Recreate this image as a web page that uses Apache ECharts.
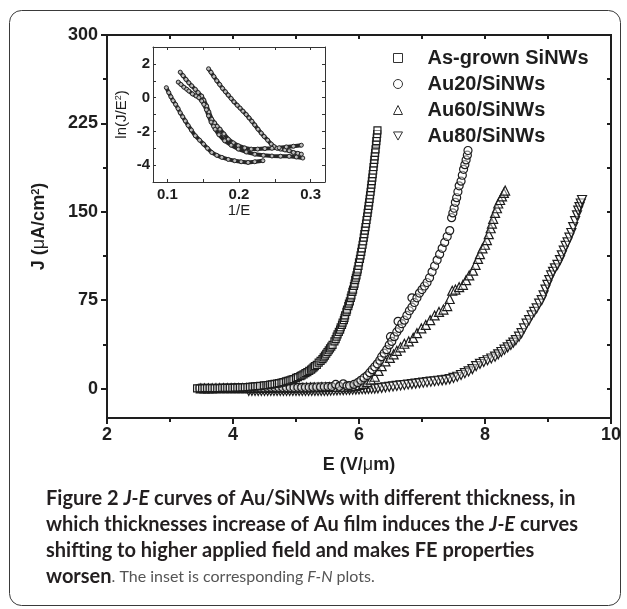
<!DOCTYPE html>
<html><head><meta charset="utf-8">
<script src="https://cdn.jsdelivr.net/npm/echarts@6/dist/echarts.min.js"></script>
<style>html,body{margin:0;padding:0;background:#fff}#c{width:627px;height:609px}</style>
</head><body><div id="c"></div>
<script>
// ---------- DATA ----------
const seriesNames = ['As-grown SiNWs', 'Au20/SiNWs', 'Au60/SiNWs', 'Au80/SiNWs'];
const yTicks = [0, 75, 150, 225, 300];
const yMinorTicks = [37.5, 112.5, 187.5, 262.5];
const insetXTicks = [0.1, 0.2, 0.3];
const insetYTicks = [-4, -2, 0, 2];

// main J-E data: [E (V/um), J (uA/cm2)]
const asGrown = [[3.43,0.2],[3.47,0.2],[3.51,0.2],[3.55,0.3],[3.59,0.3],[3.63,0.3],[3.67,0.3],[3.71,0.4],[3.75,0.4],[3.79,0.4],[3.83,0.5],[3.87,0.5],[3.91,0.5],[3.95,0.6],[3.99,0.6],[4.03,0.7],[4.07,0.8],[4.11,0.9],[4.15,1.0],[4.19,1.1],[4.23,1.2],[4.27,1.4],[4.31,1.6],[4.35,1.8],[4.39,2.0],[4.43,2.3],[4.49,2.6],[4.53,2.8],[4.56,3.0],[4.59,3.3],[4.62,3.5],[4.66,3.9],[4.70,4.2],[4.73,4.6],[4.77,5.0],[4.80,5.5],[4.84,6],[4.87,6.5],[4.90,7],[4.93,7.5],[4.96,8],[5.00,9],[5.03,9.7],[5.07,10.5],[5.09,11.2],[5.12,12],[5.15,13],[5.18,14],[5.21,15],[5.24,16],[5.26,17],[5.28,18],[5.30,19],[5.33,20],[5.36,22],[5.39,23.5],[5.42,25],[5.44,26.5],[5.46,28],[5.48,29.5],[5.50,31],[5.52,32.5],[5.54,34],[5.56,35.5],[5.58,37],[5.61,40],[5.63,42],[5.645,44],[5.66,46],[5.68,48],[5.70,50],[5.71,52],[5.73,54],[5.74,56],[5.76,58],[5.77,60],[5.78,62],[5.80,65],[5.81,67],[5.83,70],[5.84,72],[5.855,74],[5.87,77],[5.88,79],[5.895,82],[5.906,84],[5.92,87],[5.93,89],[5.94,92],[5.95,94],[5.96,96],[5.972,99],[5.98,101],[5.992,104],[6.00,107],[6.015,110],[6.025,113],[6.036,116],[6.046,119],[6.057,122],[6.066,125],[6.076,128],[6.085,131],[6.094,134],[6.103,137],[6.112,140],[6.12,143],[6.129,146],[6.137,149],[6.145,152],[6.153,155],[6.161,158],[6.169,161],[6.176,164],[6.184,167],[6.191,170],[6.198,173],[6.205,176],[6.212,179],[6.218,182],[6.225,185],[6.231,188],[6.238,191],[6.244,194],[6.25,197],[6.256,200],[6.263,203],[6.27,207],[6.276,210],[6.282,213],[6.288,216],[6.293,219]];

const au20 = [[3.47,0.3],[3.53,0.3],[3.59,0.3],[3.65,0.3],[3.71,0.4],[3.77,0.4],[3.83,0.4],[3.89,0.4],[3.95,0.4],[4.01,0.5],[4.07,0.5],[4.13,0.5],[4.19,0.5],[4.25,0.5],[4.31,0.6],[4.37,0.6],[4.43,0.6],[4.49,0.6],[4.55,0.7],[4.61,0.7],[4.67,0.7],[4.73,0.8],[4.79,0.8],[4.85,0.8],[4.91,0.9],[4.97,0.9],[5.03,1.0],[5.09,1.0],[5.15,1.1],[5.21,1.1],[5.27,1.2],[5.33,1.3],[5.39,1.4],[5.45,1.5],[5.51,1.6],[5.57,1.7],[5.63,3.5],[5.69,1.9],[5.75,4.0],[5.81,2.2],[5.85,2.5],[5.92,3.5],[5.98,5],[6.03,7],[6.08,9],[6.13,11],[6.17,13.5],[6.21,16],[6.25,18.5],[6.29,21],[6.33,24],[6.36,27],[6.40,30],[6.44,33],[6.48,37],[6.50,44],[6.52,40],[6.56,44],[6.60,48],[6.62,57],[6.64,51],[6.68,55],[6.72,58],[6.76,62],[6.80,66],[6.84,77],[6.84,69],[6.88,73],[6.92,77],[6.96,81],[7.00,84],[7.04,87],[7.08,90],[7.12,94],[7.16,99],[7.20,104],[7.24,109],[7.28,114],[7.32,119],[7.36,124],[7.40,129],[7.44,134],[7.47,145],[7.49,149],[7.51,153],[7.53,158],[7.55,162],[7.57,167],[7.59,172],[7.62,176],[7.64,181],[7.66,186],[7.68,190],[7.70,194],[7.72,198],[7.73,202]];

const au60 = [[3.49,0.2],[3.55,0.2],[3.61,0.2],[3.67,0.2],[3.73,0.3],[3.79,0.3],[3.85,0.3],[3.91,0.3],[3.97,0.3],[4.03,0.4],[4.09,0.4],[4.15,0.4],[4.21,0.4],[4.27,0.4],[4.33,0.5],[4.39,0.5],[4.45,0.5],[4.51,0.5],[4.57,0.6],[4.63,0.6],[4.69,0.6],[4.75,0.7],[4.81,0.7],[4.87,0.7],[4.93,0.8],[4.99,0.8],[5.05,0.9],[5.11,0.9],[5.17,1.0],[5.23,1.0],[5.29,1.1],[5.35,1.1],[5.41,1.2],[5.47,1.2],[5.53,1.3],[5.59,1.3],[5.65,1.4],[5.71,1.4],[5.77,1.5],[5.83,1.6],[5.89,1.8],[5.95,2.3],[6.01,3],[6.07,4],[6.13,5.5],[6.19,7.5],[6.25,10],[6.31,15],[6.36,19],[6.42,23],[6.49,26],[6.55,29],[6.60,32],[6.66,35],[6.72,38],[6.79,40],[6.86,43],[6.92,47],[6.99,51],[7.06,54],[7.13,58],[7.20,62],[7.27,65],[7.34,67],[7.40,70],[7.44,76],[7.48,83],[7.53,84],[7.59,86],[7.65,88],[7.70,92],[7.75,96],[7.81,100],[7.85,105],[7.89,110],[7.92,114],[7.96,119],[8.00,122],[8.03,126],[8.06,131],[8.09,136],[8.11,140],[8.13,144],[8.16,149],[8.19,153],[8.21,157],[8.24,160],[8.27,163],[8.30,166],[8.32,168]];

const au80 = [[4.25,-2],[4.30,-2],[4.35,-2],[4.40,-2],[4.45,-2],[4.50,-2],[4.55,-2],[4.60,-2],[4.65,-2],[4.70,-2],[4.75,-2],[4.80,-2],[4.85,-2],[4.90,-2],[4.95,-2],[5.00,-2],[5.05,-2],[5.10,-2],[5.15,-2],[5.20,-2],[5.25,-2],[5.30,-2],[5.35,-2],[5.40,-2],[5.45,-2],[5.50,-2],[5.55,-1.8],[5.60,-1.6],[5.65,-1.5],[5.70,-1.4],[5.75,-1.3],[5.80,-1.2],[5.85,-1.1],[5.90,-1.0],[5.95,-0.9],[6.00,-0.8],[6.05,-0.6],[6.10,-0.5],[6.15,-0.3],[6.20,-0.2],[6.25,0],[6.30,0.2],[6.36,0.6],[6.42,1.0],[6.48,1.4],[6.54,1.8],[6.60,2.2],[6.66,2.6],[6.72,3.0],[6.78,3.4],[6.84,3.8],[6.90,4.2],[6.96,4.6],[7.02,5.0],[7.08,5.4],[7.14,5.8],[7.20,6.2],[7.26,6.6],[7.32,7.0],[7.38,7.4],[7.44,8],[7.50,9],[7.56,10],[7.62,11.5],[7.68,13],[7.74,14.5],[7.80,16.5],[7.86,19],[7.92,21],[7.98,22.5],[8.04,24],[8.10,25.5],[8.16,27],[8.21,29],[8.26,31],[8.31,33],[8.36,35],[8.41,37],[8.45,39],[8.49,41],[8.54,44],[8.58,47],[8.62,51],[8.66,55],[8.70,58],[8.74,62],[8.78,65],[8.82,68],[8.86,72],[8.90,75],[8.93,79],[8.96,84],[8.99,88],[9.02,92],[9.05,96],[9.08,99],[9.11,102],[9.15,105],[9.19,109],[9.22,113],[9.25,117],[9.28,121],[9.31,124],[9.34,128],[9.37,132],[9.40,137],[9.43,142],[9.46,147],[9.48,151],[9.50,154],[9.52,157],[9.54,160]];

// inset F-N data: [1/E, ln(J/E^2)]
const fnAsGrown = [[0.1575,1.71],[0.161,1.5],[0.165,1.25],[0.169,1.0],[0.173,0.78],[0.177,0.55],[0.181,0.35],[0.185,0.15],[0.189,-0.05],[0.193,-0.25],[0.1975,-0.45],[0.2015,-0.62],[0.2055,-0.8],[0.21,-1.0],[0.214,-1.2],[0.218,-1.4],[0.222,-1.62],[0.2265,-1.87],[0.231,-2.1],[0.235,-2.3],[0.24,-2.52],[0.245,-2.75],[0.249,-2.9],[0.253,-3.0],[0.258,-3.05],[0.264,-3.1],[0.27,-3.15],[0.276,-3.25],[0.282,-3.3],[0.287,-3.35]];
const fnAu20 = [[0.118,1.51],[0.122,1.3],[0.126,1.08],[0.13,0.88],[0.134,0.7],[0.139,0.49],[0.143,0.3],[0.148,0.09],[0.151,-0.15],[0.155,-0.5],[0.158,-0.85],[0.162,-1.28],[0.166,-1.5],[0.1695,-1.7],[0.1735,-1.87],[0.179,-2.15],[0.185,-2.46],[0.192,-2.68],[0.199,-2.85],[0.208,-2.98],[0.217,-3.05],[0.226,-3.05],[0.236,-3.02],[0.246,-3.0],[0.256,-2.97],[0.266,-2.92],[0.276,-2.88],[0.287,-2.82]];
const fnAu60 = [[0.1152,0.92],[0.119,0.78],[0.123,0.62],[0.127,0.5],[0.130,0.39],[0.135,0.22],[0.14,0.1],[0.144,0.0],[0.148,-0.2],[0.151,-0.4],[0.1545,-0.72],[0.1575,-1.08],[0.161,-1.45],[0.1645,-1.7],[0.1667,-1.87],[0.172,-2.2],[0.18,-2.56],[0.189,-2.82],[0.199,-3.05],[0.21,-3.22],[0.222,-3.35],[0.234,-3.42],[0.246,-3.46],[0.258,-3.47],[0.27,-3.48],[0.28,-3.52],[0.289,-3.58]];
const fnAu80 = [[0.0986,0.59],[0.102,0.3],[0.105,0.05],[0.108,-0.18],[0.1115,-0.4],[0.115,-0.65],[0.118,-0.9],[0.1215,-1.14],[0.125,-1.38],[0.129,-1.65],[0.1335,-1.92],[0.139,-2.26],[0.145,-2.52],[0.1505,-2.75],[0.156,-3.0],[0.162,-3.25],[0.169,-3.42],[0.176,-3.54],[0.185,-3.66],[0.194,-3.74],[0.203,-3.8],[0.2127,-3.84],[0.222,-3.8],[0.2334,-3.74]];

// ---------- CHART ----------
const INK = '#1e1e1e';
const AXFONT = '"Liberation Sans", Arial, sans-serif';
const CAPFONT = 'Lato';
const symbols = ['rect', 'circle', 'triangle', 'path://M0,0L10,0L5,9Z'];
const sizes = [7, 8, 9, 9];
const mainData = [asGrown, au20, au60, au80];
const fnData = [fnAsGrown, fnAu20, fnAu60, fnAu80];
const AXZL = 2; // own canvas layer for the main frame axes

const chart = echarts.init(document.getElementById('c'), null, {renderer: 'canvas'});

function axLine(w, c) { return {show: true, onZero: false, lineStyle: {color: c, width: w, type: 'solid', opacity: 1}}; }
function tick(len, inside, w, c, vals) { const t = {show: true, length: len, inside: inside, lineStyle: {color: c, width: w}}; if (vals) t.customValues = vals; return t; }
function lblMain(extra) { return Object.assign({fontFamily: AXFONT, fontWeight: 'bold', fontSize: 18, color: INK}, extra); }
function lblInset(extra) { return Object.assign({fontFamily: AXFONT, fontWeight: 'bold', fontSize: 15, color: INK}, extra); }

const series = [];
for (let i = 3; i >= 0; i--) {
  series.push({name: seriesNames[i], type: 'scatter', xAxisIndex: 0, yAxisIndex: 0,
    symbol: symbols[i], symbolSize: sizes[i], data: mainData[i],
    itemStyle: {color: 'rgba(255,255,255,0.45)', borderColor: '#1c1c1c', borderWidth: 1.2, opacity: 1},
    emphasis: {disabled: true}, z: 3, animation: false});
}
for (let i = 0; i < 4; i++) {
  series.push({name: 'fn' + i, type: 'line', xAxisIndex: 3, yAxisIndex: 4,
    data: fnData[i], symbol: 'circle', symbolSize: 4, showSymbol: true,
    lineStyle: {color: '#262626', width: 4},
    itemStyle: {color: '#bbbbbb', borderColor: '#262626', borderWidth: 1},
    emphasis: {disabled: true}, z: 6, animation: false});
}

const capRich = {
  b: {fontFamily: CAPFONT, fontWeight: 'bold', fontSize: 20, fill: '#231f20', lineHeight: 26},
  bi: {fontFamily: CAPFONT, fontWeight: 'bold', fontStyle: 'italic', fontSize: 20, fill: '#231f20', lineHeight: 26},
  r: {fontFamily: CAPFONT, fontSize: 16, fill: '#555555', lineHeight: 26},
  ri: {fontFamily: CAPFONT, fontStyle: 'italic', fontSize: 16, fill: '#555555', lineHeight: 26}
};
const captionText =
  '{b|Figure 2 }{bi|J-E}{b| curves of Au/SiNWs with different thickness, in}\n' +
  '{b|which thicknesses increase of Au film induces the }{bi|J-E}{b| curves}\n' +
  '{b|shifting to higher applied field and makes FE properties}\n' +
  '{b|worsen}{r|. The inset is corresponding }{ri|F-N}{r| plots.}';

const option = {
  animation: false, backgroundColor: '#ffffff',
  grid: [
    {left: 107, top: 35, width: 504, height: 383},
    {left: 153, top: 47, width: 172, height: 135, show: true, backgroundColor: '#ffffff', borderWidth: 0},
    {left: 107, top: 35, width: 504, height: 383, show: true, backgroundColor: 'transparent', borderColor: INK, borderWidth: 2, zlevel: AXZL, z: 10}
  ],
  legend: {data: seriesNames, orient: 'vertical', left: 388, top: 43, itemWidth: 9, itemHeight: 9, itemGap: 6,
    itemStyle: {color: '#ffffff', borderColor: '#333', borderWidth: 1},
    textStyle: {fontFamily: AXFONT, fontWeight: 'bold', fontSize: 20, color: INK, lineHeight: 20, padding: [0, 0, 0, 20]},
    selectedMode: false},
  xAxis: [
    {gridIndex: 0, type: 'value', min: 2, max: 10, interval: 2, show: false, splitLine: {show: false}},
    {gridIndex: 2, type: 'value', min: 2, max: 10, interval: 2, position: 'bottom', zlevel: AXZL, z: 10,
     axisLine: axLine(2, INK), axisTick: tick(6, false, 2, INK),
     minorTick: {show: true, splitNumber: 2, length: 4, lineStyle: {color: INK, width: 2}},
     axisLabel: lblMain({margin: 8}), splitLine: {show: false},
     name: '{b|E (V/}{m|μ}{b|m)}', nameLocation: 'middle', nameGap: 38,
     nameTextStyle: {rich: {b: {fontFamily: AXFONT, fontWeight: 'bold', fontSize: 18, color: INK}, m: {fontFamily: AXFONT, fontSize: 18, color: INK}}}},
    {gridIndex: 2, type: 'value', min: 2, max: 10, interval: 1, position: 'top', zlevel: AXZL, z: 10,
     axisLine: axLine(2, INK), axisTick: tick(4, true, 2, INK), axisLabel: {show: false}, splitLine: {show: false}},
    {gridIndex: 1, type: 'value', min: 0.08, max: 0.32, position: 'bottom',
     axisLine: axLine(1, '#333'), axisTick: tick(3, true, 1, '#333', [0.1, 0.15, 0.2, 0.25, 0.3]),
     axisLabel: lblInset({margin: 5, customValues: insetXTicks, formatter: v => v.toFixed(1)}), splitLine: {show: false},
     name: '1/E', nameLocation: 'middle', nameGap: 21, nameTextStyle: {fontFamily: AXFONT, fontSize: 15, color: INK}},
    {gridIndex: 1, type: 'value', min: 0.08, max: 0.32, position: 'top',
     axisLine: axLine(1, '#333'), axisTick: tick(3, true, 1, '#333', [0.1, 0.15, 0.2, 0.25, 0.3]),
     axisLabel: {show: false}, splitLine: {show: false}}
  ],
  yAxis: [
    {gridIndex: 0, type: 'value', min: -25, max: 300, show: false, splitLine: {show: false}},
    {gridIndex: 2, type: 'value', min: -25, max: 300, position: 'left', zlevel: AXZL, z: 10,
     axisLine: axLine(2, INK), axisTick: tick(6, false, 2, INK, yTicks),
     axisLabel: lblMain({margin: 9, customValues: yTicks}), splitLine: {show: false},
     name: '{b|J (}{m|μ}{b|A/cm}{s|2}{b|)}', nameLocation: 'middle', nameGap: 58, nameRotate: 90,
     nameTextStyle: {rich: {
       b: {fontFamily: AXFONT, fontWeight: 'bold', fontSize: 18, color: INK},
       m: {fontFamily: AXFONT, fontSize: 18, color: INK},
       s: {fontFamily: AXFONT, fontWeight: 'bold', fontSize: 11, color: INK, verticalAlign: 'top', padding: [0, 0, 8, 0]}}}},
    {gridIndex: 2, type: 'value', min: -25, max: 300, position: 'left', zlevel: AXZL, z: 10,
     axisLine: {show: false, onZero: false}, axisTick: tick(4, false, 2, INK, yMinorTicks),
     axisLabel: {show: false}, splitLine: {show: false}},
    {gridIndex: 2, type: 'value', min: -25, max: 300, position: 'right', zlevel: AXZL, z: 10,
     axisLine: axLine(2, INK), axisTick: tick(4, true, 2, INK, [0, 37.5, 75, 112.5, 150, 187.5, 225, 262.5, 300]),
     axisLabel: {show: false}, splitLine: {show: false}},
    {gridIndex: 1, type: 'value', min: -5, max: 3, position: 'left',
     axisLine: axLine(1, '#333'), axisTick: tick(3, true, 1, '#333', [-4, -3, -2, -1, 0, 1, 2]),
     axisLabel: lblInset({margin: 3, customValues: insetYTicks}), splitLine: {show: false},
     name: '{r|ln(J/E}{s|2}{r|)}', nameLocation: 'middle', nameGap: 24, nameRotate: 90,
     nameTextStyle: {rich: {r: {fontFamily: AXFONT, fontSize: 15, color: INK}, s: {fontFamily: AXFONT, fontSize: 9, color: INK, verticalAlign: 'top', padding: [0, 0, 6, 0]}}}},
    {gridIndex: 1, type: 'value', min: -5, max: 3, position: 'right',
     axisLine: axLine(1, '#333'), axisTick: tick(3, true, 1, '#333', [-4, -3, -2, -1, 0, 1, 2]),
     axisLabel: {show: false}, splitLine: {show: false}}
  ],
  series: series,
  graphic: [
    {type: 'rect', zlevel: 1, shape: {x: 9.5, y: 10.5, width: 611, height: 595, r: 12}, style: {fill: 'none', stroke: '#3a3a3a', lineWidth: 1}, silent: true},
    {type: 'text', zlevel: 1, left: 46, top: 489, silent: true, style: {text: captionText, rich: capRich}}
  ]
};
chart.setOption(option);
setTimeout(function () {
  const zr = chart.getZr();
  zr.storage.getDisplayList(true);
  zr.refreshImmediately();
}, 250);
</script></body></html>
